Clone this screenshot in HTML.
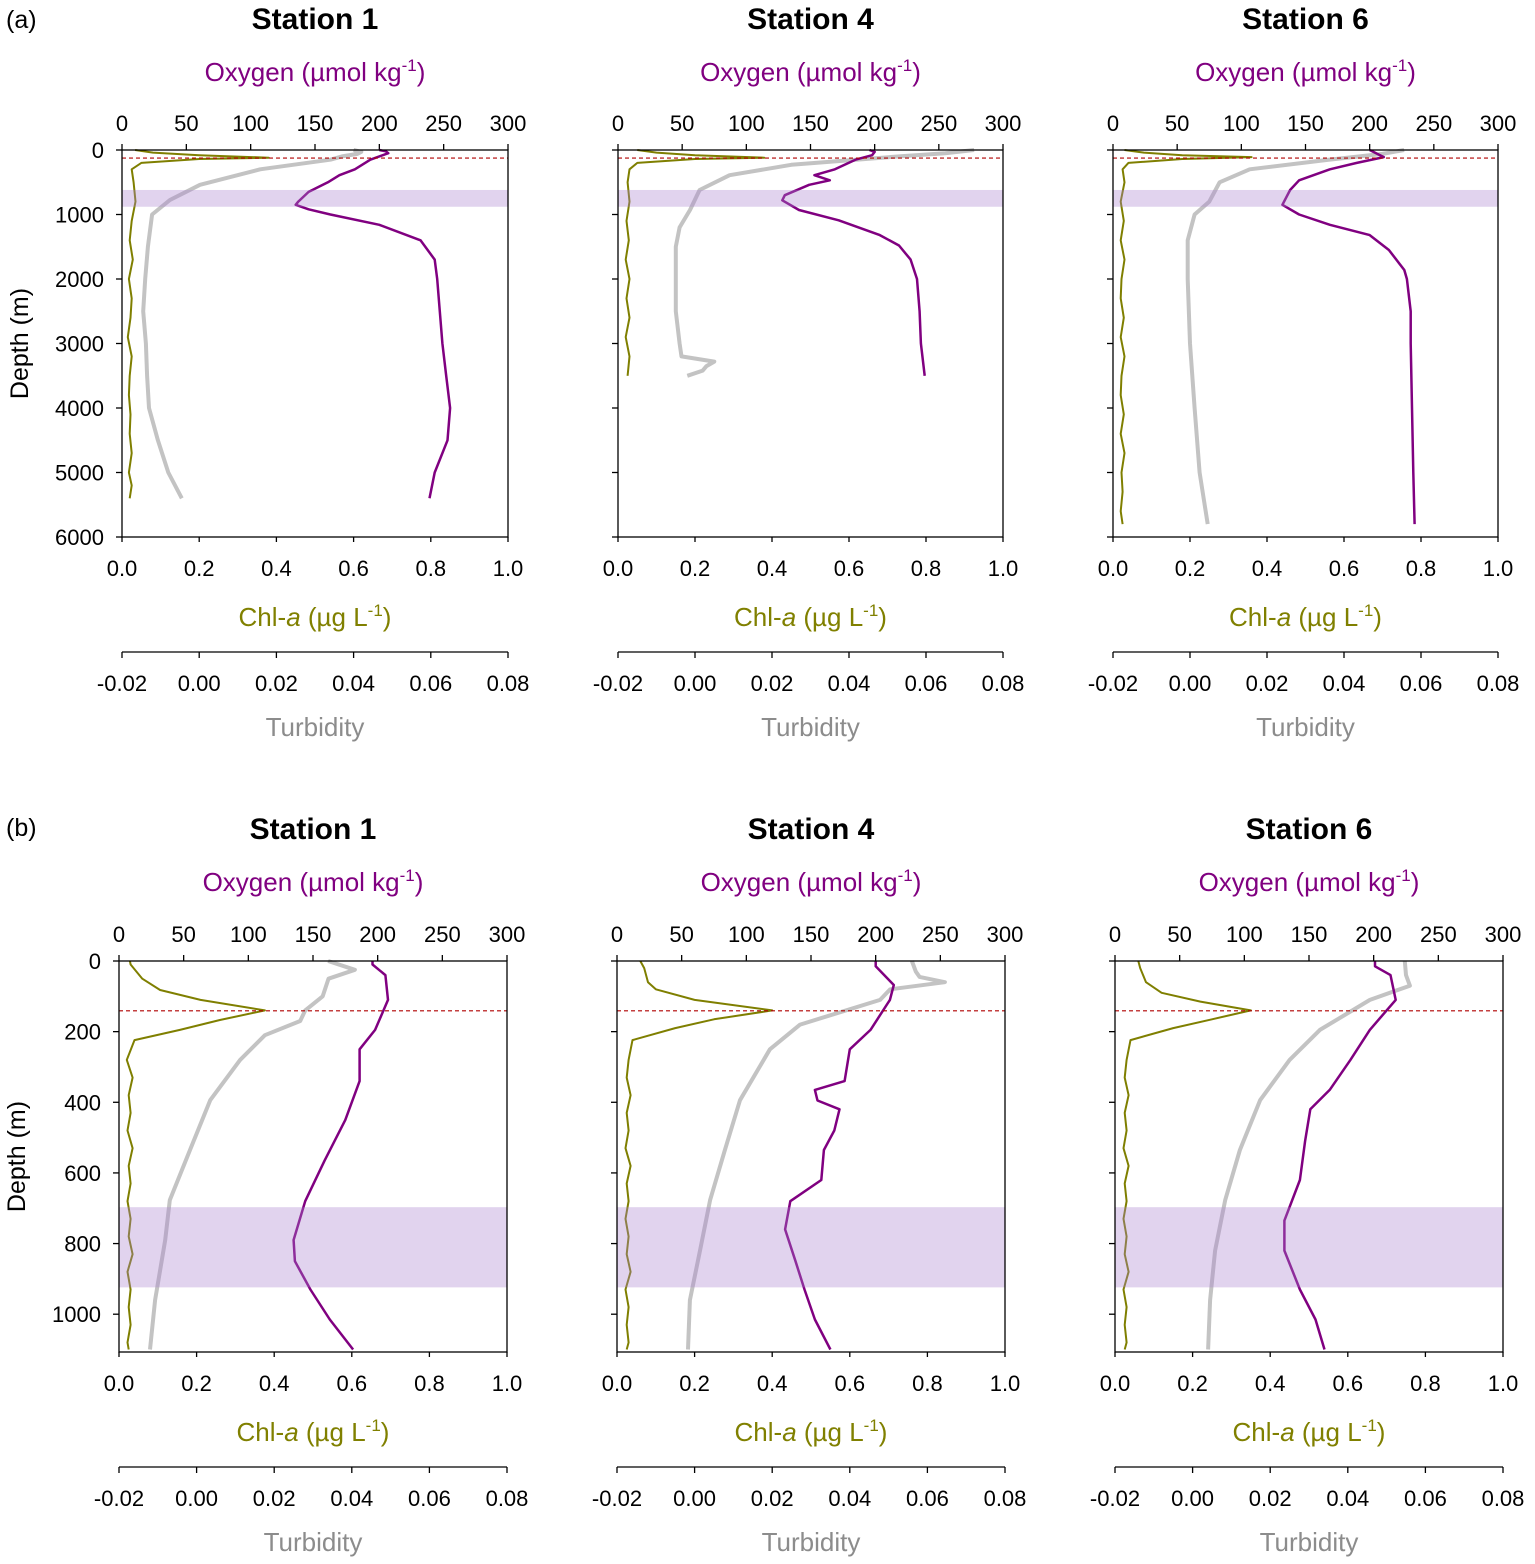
<!DOCTYPE html>
<html><head><meta charset="utf-8"><style>
body{margin:0;background:#fff;}
svg{display:block;font-family:"Liberation Sans",Arial,sans-serif;}
</style></head><body>
<svg id="fig" width="1535" height="1564" viewBox="0 0 1535 1564" xmlns="http://www.w3.org/2000/svg">
<text x="6" y="28" font-size="25">(a)</text>
<text x="6" y="836" font-size="25">(b)</text>
</svg>
<script>
// ---- Data (depth in m, oxygen µmol/kg, chl µg/L, turbidity) ----
// Panel (a) Station 1
const a1OxyDepth=[0,20,50,100,150,300,390,500,650,800,850,920,1000,1160,1400,1700,2000,2500,3000,3500,4000,4500,5000,5400];
const a1Oxy=[200,205,207,200,193,181,169,160,145,137,135,145,162,200,232,243,245,247,249,252,255,253,243,239];
const a1TurDepth=[0,30,60,100,150,300,540,775,1000,1500,2000,2500,3000,3500,4000,4500,5000,5400];
const a1Tur=[0.040,0.042,0.041,0.037,0.034,0.0158,0.0002,-0.0076,-0.0122,-0.0133,-0.014,-0.0145,-0.0138,-0.0135,-0.013,-0.0107,-0.008,-0.0045];
const a1ChlDepth=[0,40,80,120,140,200,300,500,800,1100,1400,1700,2000,2300,2600,2900,3200,3500,3800,4100,4400,4700,5000,5200,5400];
const a1Chl=[0.034,0.08,0.2,0.38,0.2,0.05,0.025,0.03,0.035,0.025,0.02,0.028,0.018,0.025,0.022,0.015,0.025,0.02,0.018,0.022,0.02,0.025,0.018,0.025,0.02];
// Panel (a) Station 4
const a4OxyDepth=[0,30,80,150,300,390,470,540,700,780,930,1090,1320,1480,1700,2000,2500,3000,3500];
const a4Oxy=[196,200,198,185,169,153,165,149,130,128,141,172,204,219,228,233,235,236,239];
const a4TurDepth=[0,50,100,230,390,620,930,1200,1500,2000,2500,3000,3200,3280,3350,3420,3500];
const a4Tur=[0.0725,0.065,0.053,0.025,0.009,0.0012,-0.0013,-0.004,-0.005,-0.005,-0.005,-0.004,-0.0035,0.005,0.003,0.002,-0.002];
const a4ChlDepth=[0,40,80,120,140,200,300,500,800,1100,1400,1700,2000,2300,2600,2900,3200,3500];
const a4Chl=[0.05,0.1,0.2,0.38,0.2,0.05,0.03,0.025,0.03,0.022,0.028,0.02,0.03,0.022,0.03,0.02,0.03,0.025];
// Panel (a) Station 6
const a6OxyDepth=[0,50,110,200,300,470,620,850,1000,1160,1320,1550,1860,2000,2500,3000,4000,5000,5800];
const a6Oxy=[200,205,211,190,169,145,138,132,145,169,200,215,227,229,232,232,233,234,235];
const a6TurDepth=[0,60,150,300,500,800,1000,1400,2000,3000,4000,5000,5800];
const a6Tur=[0.0556,0.05,0.036,0.0155,0.0077,0.005,0.0012,-0.0006,-0.0006,0.0,0.0012,0.0025,0.0046];
const a6ChlDepth=[0,40,80,110,140,200,300,500,800,1100,1400,1700,2000,2300,2600,2900,3200,3500,3800,4100,4400,4700,5000,5300,5600,5800];
const a6Chl=[0.03,0.08,0.18,0.36,0.18,0.04,0.025,0.03,0.02,0.028,0.02,0.03,0.022,0.02,0.028,0.02,0.03,0.022,0.02,0.028,0.02,0.03,0.022,0.025,0.02,0.025];
// Panel (b) Station 1
const b1OxyDepth=[0,10,40,110,195,250,340,450,565,680,790,850,930,1015,1100];
const b1Oxy=[196,196,206,208,198,186,186,175,159,144,135,136,148,163,181];
const b1TurDepth=[0,25,50,100,140,170,210,280,394,535,677,790,960,1100];
const b1Tur=[0.0339,0.0408,0.034,0.0325,0.028,0.0267,0.0176,0.0112,0.0035,-0.0017,-0.0069,-0.0081,-0.0107,-0.012];
const b1ChlDepth=[0,10,50,82,110,140,167,195,224,280,330,380,430,480,530,580,630,680,730,780,830,880,930,980,1030,1080,1100];
const b1Chl=[0.028,0.03,0.06,0.106,0.21,0.376,0.26,0.157,0.04,0.02,0.035,0.025,0.03,0.022,0.035,0.025,0.03,0.022,0.03,0.025,0.035,0.022,0.03,0.025,0.03,0.022,0.025];
// Panel (b) Station 4
const b4OxyDepth=[0,15,68,110,195,250,340,365,395,420,480,535,620,680,760,850,930,1015,1100];
const b4Oxy=[200,200,214,211,196,180,176,153,155,172,168,160,158,134,130,138,145,153,165];
const b4TurDepth=[0,30,45,60,80,110,180,250,394,535,677,820,960,1100];
const b4Tur=[0.056,0.057,0.058,0.0645,0.0504,0.0478,0.0272,0.0194,0.0117,0.0078,0.004,0.0014,-0.0012,-0.0017];
const b4ChlDepth=[0,20,60,80,110,140,165,190,224,280,330,380,430,480,530,580,630,680,730,780,830,880,930,980,1030,1080,1100];
const b4Chl=[0.06,0.07,0.08,0.1,0.2,0.40,0.25,0.15,0.04,0.03,0.025,0.035,0.025,0.03,0.022,0.035,0.025,0.03,0.022,0.03,0.025,0.035,0.022,0.03,0.025,0.03,0.025];
// Panel (b) Station 6
const b6OxyDepth=[0,15,40,110,195,280,365,420,510,620,735,820,930,1015,1100];
const b6Oxy=[201,201,213,217,197,182,166,151,147,143,131,131,143,155,162];
const b6TurDepth=[0,40,70,110,195,280,394,535,677,820,960,1100];
const b6Tur=[0.0547,0.055,0.056,0.0457,0.0328,0.025,0.0174,0.0122,0.0084,0.0058,0.0045,0.004];
const b6ChlDepth=[0,20,60,90,115,140,165,190,224,280,330,380,430,480,530,580,630,680,730,780,830,880,930,980,1030,1080,1100];
const b6Chl=[0.06,0.065,0.08,0.12,0.22,0.35,0.25,0.15,0.04,0.03,0.025,0.035,0.025,0.03,0.022,0.035,0.025,0.03,0.022,0.03,0.025,0.035,0.022,0.03,0.025,0.03,0.025];
// axis tick labels
const oxyTicks=[0,50,100,150,200,250,300];
const chlTicks=[0,0.2,0.4,0.6,0.8,1.0];
const turTicks=[-0.02,0,0.02,0.04,0.06,0.08];
const depthTicksA=[0,1000,2000,3000,4000,5000,6000];
const depthTicksB=[0,200,400,600,800,1000];
const stationNames=["Station 1","Station 4","Station 6"];

const NS="http://www.w3.org/2000/svg";
const svg=document.getElementById('fig');
function mk(tag,attrs,parent,txt){const e=document.createElementNS(NS,tag);for(const k in attrs)e.setAttribute(k,attrs[k]);if(txt!==undefined)e.textContent=txt;(parent||svg).appendChild(e);return e;}

function panel(cfg){
  const g=mk('g',{});
  
  
  const {x0,x1,y0,y1,dmax}=cfg;
  const W=x1-x0;
  const yD=d=>y0+(d/dmax)*(y1-y0);
  const xO=v=>x0+v/300*W;
  const xC=v=>x0+v/1*W;
  const xT=v=>x0+(v+0.02)/0.1*W;
  const cx=(x0+x1)/2;
  const t=mk('text',{x:cx,y:cfg.titleY,'font-size':30,'font-weight':'bold','text-anchor':'middle'},g,cfg.title);
  
  
  const ol=mk('text',{x:cx,y:cfg.titleY+52,'font-size':26,fill:'#800080','text-anchor':'middle'},g);
  
  
  ol.innerHTML='Oxygen (µmol kg<tspan dy="-10" font-size="17">-1</tspan><tspan dy="10">)</tspan>';
  oxyTicks.forEach(v=>{
    mk('line',{x1:xO(v),x2:xO(v),y1:y0,y2:y0-6,stroke:'#000','stroke-width':1.3},g);
    const tl=mk('text',{x:xO(v),y:y0-19,'font-size':22,'text-anchor':'middle'},g,String(v));
    
    
  });
  cfg.dticks.forEach(v=>{
    mk('line',{x1:x0,x2:x0-6,y1:yD(v),y2:yD(v),stroke:'#000','stroke-width':1.3},g);
    if(cfg.showDepth){
      const tl=mk('text',{x:x0-18,y:yD(v)+8,'font-size':22,'text-anchor':'end'},g,String(v));
      
      
    }
  });
  if(cfg.showDepth){
    const dl=mk('text',{x:0,y:0,'font-size':25,'text-anchor':'middle',transform:`translate(${x0-94},${(y0+y1)/2}) rotate(-90)`},g,'Depth (m)');
    
    
  }
  chlTicks.forEach(v=>{
    mk('line',{x1:xC(v),x2:xC(v),y1:y1,y2:y1+5,stroke:'#000','stroke-width':1.3},g);
    const tl=mk('text',{x:xC(v),y:y1+39,'font-size':22,'text-anchor':'middle'},g,v.toFixed(1));
    
    
  });
  const cl=mk('text',{x:cx,y:y1+89,'font-size':26,fill:'#808000','text-anchor':'middle'},g);
  
  
  cl.innerHTML='Chl-<tspan font-style="italic">a</tspan> (µg L<tspan dy="-10" font-size="17">-1</tspan><tspan dy="10">)</tspan>';
  const ty=cfg.turY;
  const ta=mk('line',{x1:x0,x2:x1,y1:ty,y2:ty,stroke:'#000','stroke-width':1.3},g);
  
  
  turTicks.forEach(v=>{
    mk('line',{x1:xT(v),x2:xT(v),y1:ty,y2:ty+6,stroke:'#000','stroke-width':1.3},g);
    const tl=mk('text',{x:xT(v),y:ty+39,'font-size':22,'text-anchor':'middle'},g,v.toFixed(2));
    
    
  });
  const tt=mk('text',{x:cx,y:ty+84,'font-size':26,fill:'#8c8c8c','text-anchor':'middle'},g,'Turbidity');
  
  
  const line=(ds,vs,fx,col,w,name)=>{
    const p=mk('polyline',{points:ds.map((d,i)=>fx(vs[i]).toFixed(1)+','+yD(d).toFixed(1)).join(' '),fill:'none',stroke:col,'stroke-width':w,'stroke-linejoin':'round'},g);
    
    
  };
  line(cfg.turD,cfg.tur,xT,'#c3c3c3',4,'turbidity-line');
  line(cfg.chlD,cfg.chl,xC,'#7f7f00',2,'chl-line');
  line(cfg.oxyD,cfg.oxy,xO,'#800080',2.5,'oxygen-line');
  const b=mk('rect',{x:x0,y:yD(cfg.band[0]),width:W,height:yD(cfg.band[1])-yD(cfg.band[0]),fill:'rgba(170,130,205,0.35)'},g);
  
  
  const dl2=mk('line',{x1:x0,x2:x1,y1:yD(cfg.dash),y2:yD(cfg.dash),stroke:'#b00000','stroke-width':1.2,'stroke-dasharray':'4,3'},g);
  
  
  const f=mk('rect',{x:x0,y:y0,width:W,height:y1-y0,fill:'none',stroke:'#000','stroke-width':1.3},g);
  
  
}

const aX=[[122,508],[618,1003],[1113,1498]];
const bX=[[119,507],[617,1005],[1115,1503]];
const aData=[[a1OxyDepth,a1Oxy,a1TurDepth,a1Tur,a1ChlDepth,a1Chl],[a4OxyDepth,a4Oxy,a4TurDepth,a4Tur,a4ChlDepth,a4Chl],[a6OxyDepth,a6Oxy,a6TurDepth,a6Tur,a6ChlDepth,a6Chl]];
const bData=[[b1OxyDepth,b1Oxy,b1TurDepth,b1Tur,b1ChlDepth,b1Chl],[b4OxyDepth,b4Oxy,b4TurDepth,b4Tur,b4ChlDepth,b4Chl],[b6OxyDepth,b6Oxy,b6TurDepth,b6Tur,b6ChlDepth,b6Chl]];
for(let i=0;i<3;i++){
  const d=aData[i];
  panel({name:'panel-a-station-'+(i+1),title:stationNames[i],x0:aX[i][0],x1:aX[i][1],y0:150,y1:537,dmax:6000,dticks:depthTicksA,showDepth:i===0,titleY:29,turY:652,
    oxyD:d[0],oxy:d[1],turD:d[2],tur:d[3],chlD:d[4],chl:d[5],band:[620,880],dash:125});
  const e=bData[i];
  panel({name:'panel-b-station-'+(i+1),title:stationNames[i],x0:bX[i][0],x1:bX[i][1],y0:961,y1:1352,dmax:1107,dticks:depthTicksB,showDepth:i===0,titleY:839,turY:1467,
    oxyD:e[0],oxy:e[1],turD:e[2],tur:e[3],chlD:e[4],chl:e[5],band:[697,924],dash:141});
}
</script>
</body></html>
